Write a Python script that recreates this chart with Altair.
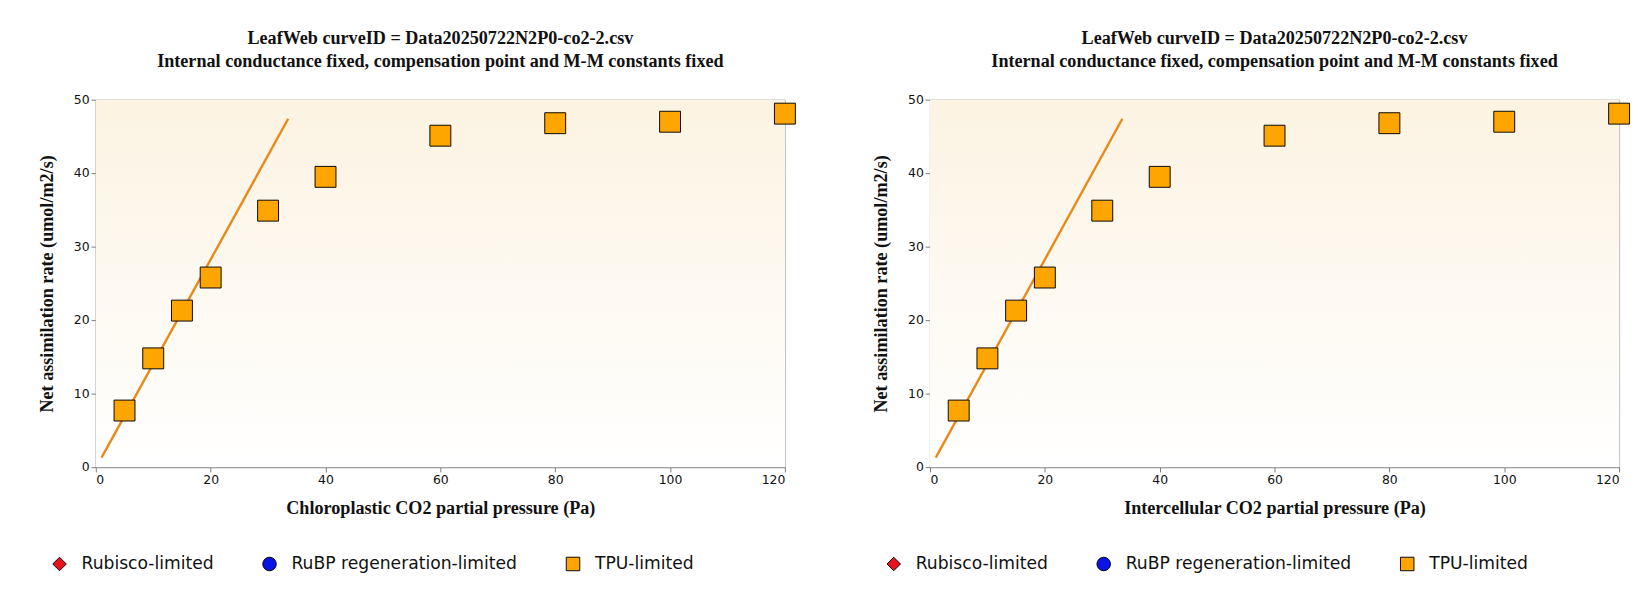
import altair as alt
import pandas as pd

# measured points (TPU-limited)
ci = [5, 10, 15, 20, 30, 40, 60, 80, 100, 120]
an = [7.7, 14.8, 21.3, 25.8, 34.9, 39.5, 45.1, 46.8, 47.0, 48.1]

# fitted line end points
line_x = [1.0, 33.5]
line_y = [1.3, 47.4]

series = ["Rubisco-limited", "RuBP regeneration-limited", "TPU-limited"]
series_colors = ["#e8141c", "#0a14e6", "#ffa500"]
series_shapes = ["diamond", "circle", "square"]

x_titles = ["Chloroplastic CO2 partial pressure (Pa)", "Intercellular CO2 partial pressure (Pa)"]
title_lines = ["LeafWeb curveID = Data20250722N2P0-co2-2.csv",
               "Internal conductance fixed, compensation point and M-M constants fixed"]

pts = pd.DataFrame({"x": ci, "y": an, "s": "TPU-limited"})
ln = pd.DataFrame({"x": line_x, "y": line_y})

W, H = 722, 385
serif = "Liberation Serif"
sans = "DejaVu Sans"


def panel(xtitle):
    xs = alt.Scale(domain=[0, 120], nice=False)
    ys = alt.Scale(domain=[0, 50], nice=False)
    bg = alt.Chart(pd.DataFrame({"a": [0]})).mark_rect(
        fill=alt.Gradient(gradient="linear", x1=0, y1=0, x2=0, y2=1,
                          stops=[alt.GradientStop(color="#fcf3e2", offset=0),
                                 alt.GradientStop(color="#ffffff", offset=1)])
    ).encode(x=alt.value(0), x2=alt.value("width"), y=alt.value(0), y2=alt.value("height"))

    line = alt.Chart(ln).mark_line(color="#e8891a", strokeWidth=2.5).encode(
        x=alt.X("x:Q", scale=xs,
                axis=alt.Axis(title=xtitle, values=[0, 20, 40, 60, 80, 100, 120])),
        y=alt.Y("y:Q", scale=ys,
                axis=alt.Axis(title="Net assimilation rate (umol/m2/s)", values=[0, 10, 20, 30, 40, 50])),
    )

    leg = alt.Legend(title=None, orient="none", direction="horizontal",
                     legendX=-47, legendY=H + 92, columnPadding=48, labelLimit=400,
                     labelFont=sans, labelFontSize=18, labelColor="#111", labelOffset=14,
                     symbolSize=200, symbolStrokeWidth=1, symbolOffset=0)
    points = alt.Chart(pts).mark_point(filled=True, size=480, stroke="black",
                                       strokeWidth=1, opacity=1).encode(
        x=alt.X("x:Q", scale=xs),
        y=alt.Y("y:Q", scale=ys),
        color=alt.Color("s:N", scale=alt.Scale(domain=series, range=series_colors), legend=leg),
        shape=alt.Shape("s:N", scale=alt.Scale(domain=series, range=series_shapes), legend=leg),
    )
    return alt.layer(bg, line, points).properties(
        width=W, height=H,
        title=alt.TitleParams(title_lines, font=serif, fontSize=19, fontWeight="bold",
                              color="#111", offset=24, lineHeight=24),
    )


chart = alt.hconcat(panel(x_titles[0]), panel(x_titles[1]), spacing=76).resolve_legend(
    color="independent", shape="independent"
).resolve_scale(color="independent", shape="independent").properties(
    padding={"left": 30, "top": 8, "right": 10, "bottom": 10}
).configure_view(stroke="#999").configure_axis(
    labelFont=sans, labelFontSize=13, labelColor="#111",
    titleFont=serif, titleFontSize=19, titleFontWeight="bold", titleColor="#111",
    gridColor="#cccccc", domainColor="#777", tickColor="#777",
    titlePadding=14,
).configure_axisY(titlePadding=18)

chart.save("out.html", embed_options={"renderer": "svg", "actions": False})
